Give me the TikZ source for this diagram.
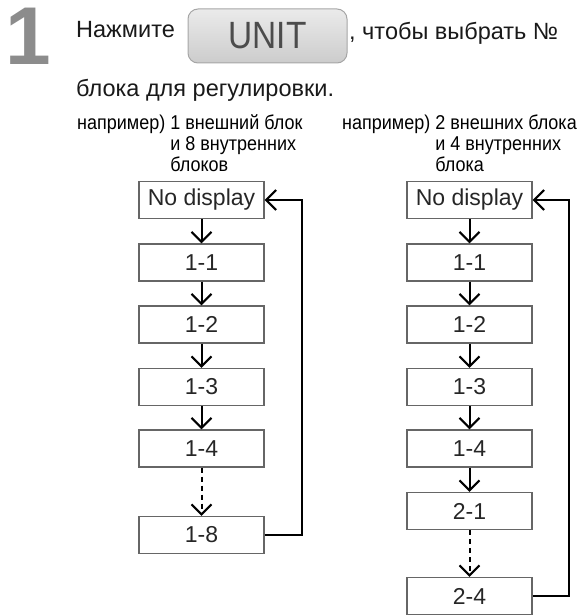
\documentclass[tikz,border=0pt]{standalone}
\usepackage{fontspec}
\setmainfont{Liberation Sans}
\newfontfamily\narrowfont[FakeStretch=0.9]{Liberation Sans}
\newfontfamily\unitfont[FakeStretch=0.88]{Liberation Sans}
\usepackage{tikz}
\usetikzlibrary{arrows.meta}

\begin{document}
\begin{tikzpicture}[x=1pt,y=-1pt]
\tikzstyle{myarrow}=[line width=2pt,draw=black,-{Straight Barb[length=10pt,width=20pt]}];
\tikzstyle{mydots}=[myarrow,dash pattern=on 5pt off 4pt];
\tikzstyle{unitbox}=[draw=black!60,line width=1.4pt,minimum width=125pt,minimum height=37pt,inner sep=0pt,text=black!85,font=\fontsize{23}{26}\selectfont];
\tikzstyle{caption}=[anchor=base west,inner sep=0pt,font=\narrowfont\fontsize{20}{21}\selectfont];
\tikzstyle{bigtext}=[anchor=base west,inner sep=0pt,text=black!90,font=\fontsize{23.5}{26}\selectfont];

\useasboundingbox (0,0) rectangle (581,615);

% step number and instruction
\node (stepnum) [anchor=base west,inner sep=0pt,text=black!45,font=\bfseries\fontsize{82}{82}\selectfont] at (5,65) {1};
\node (press) [bigtext] at (76,38) {Нажмите};
\node (unitkey) [draw=black!35,top color=black!8,bottom color=black!20,rounded corners=10pt,line width=1pt,minimum width=159pt,minimum height=54pt,text=black!70,font=\unitfont\fontsize{38}{38}\selectfont] at (267.5,36) {UNIT};
\node (choose) [bigtext] at (349,40) {, чтобы выбрать №};
\node (adjust) [bigtext] at (76,96) {блока для регулировки.};

% examples
\node (capL) [caption] at (77,129) {например) \begin{tabular}[t]{@{}l@{}}1 внешний блок\\и 8 внутренних\\блоков\end{tabular}};
\node (capR) [caption,anchor=base east] at (577,129) {например) \begin{tabular}[t]{@{}l@{}}2 внешних блока\\и 4 внутренних\\блока\end{tabular}};

\def \colL{201.5};
\def \colR{469.5};

% left chain
\node (l0) [unitbox] at (\colL,200) {No display};
\node (l1) [unitbox] at (\colL,262.5) {1-1};
\node (l2) [unitbox] at (\colL,324.5) {1-2};
\node (l3) [unitbox] at (\colL,387) {1-3};
\node (l4) [unitbox] at (\colL,448.5) {1-4};
\node (l8) [unitbox] at (\colL,535) {1-8};

\draw [myarrow] (l0) -- (l1);
\draw [myarrow] (l1) -- (l2);
\draw [myarrow] (l2) -- (l3);
\draw [myarrow] (l3) -- (l4);
\draw [mydots] (l4) -- (l8);
\draw [myarrow] (l8.east) -- ++(37,0) |- (l0.east); % back to start

% right chain
\node (r0) [unitbox] at (\colR,200) {No display};
\node (r1) [unitbox] at (\colR,262.5) {1-1};
\node (r2) [unitbox] at (\colR,324.5) {1-2};
\node (r3) [unitbox] at (\colR,387) {1-3};
\node (r4) [unitbox] at (\colR,448.5) {1-4};
\node (r5) [unitbox] at (\colR,511) {2-1};
\node (r8) [unitbox] at (\colR,596) {2-4};

\draw [myarrow] (r0) -- (r1);
\draw [myarrow] (r1) -- (r2);
\draw [myarrow] (r2) -- (r3);
\draw [myarrow] (r3) -- (r4);
\draw [myarrow] (r4) -- (r5);
\draw [mydots] (r5) -- (r8);
\draw [myarrow] (r8.east) -- ++(36,0) |- (r0.east); % back to start

\end{tikzpicture}
\end{document}
